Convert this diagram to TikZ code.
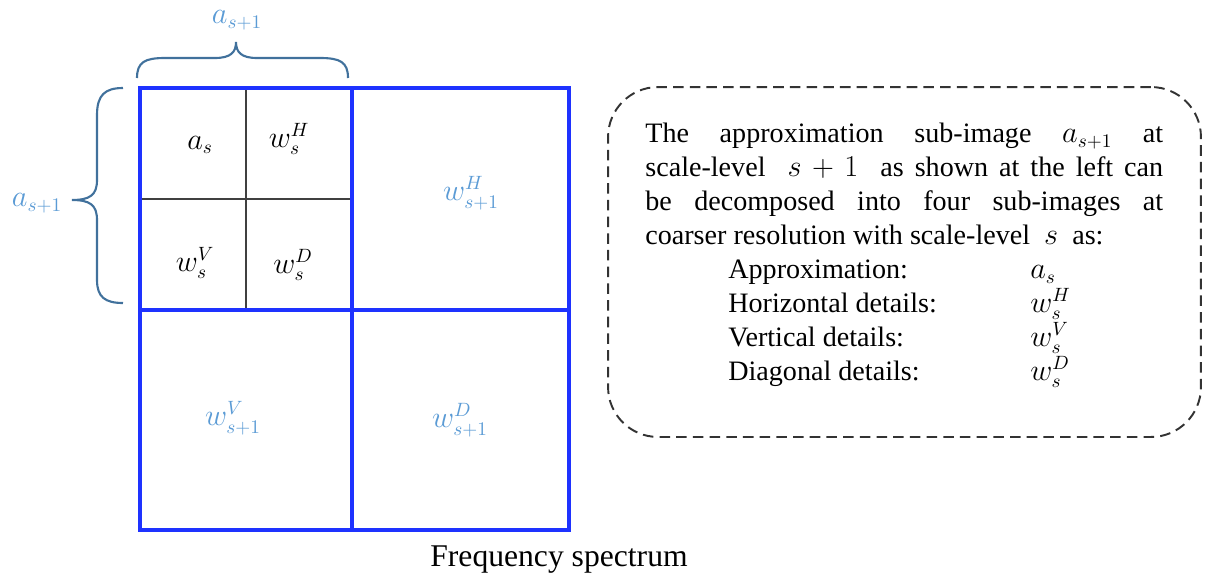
\documentclass[tikz,border=0pt]{standalone}
\usepackage{fontspec}
\setmainfont{Liberation Serif}
\usetikzlibrary{positioning}
\definecolor{gridblue}{RGB}{30,50,255}
\definecolor{labelblue}{RGB}{91,155,213}
\definecolor{bracecol}{RGB}{65,113,156}

\begin{document}
\begin{tikzpicture}[x=0.02cm, y=-0.02cm,
    cell/.style={font=\fontsize{16}{16}\selectfont},
    bigcell/.style={font=\fontsize{16}{16}\selectfont, text=labelblue},
    thinline/.style={draw=black!75, line width=0.6pt},
    bluebox/.style={draw=gridblue, line width=2.1pt},
    brace/.style={draw=bracecol, line width=1.2pt},
    notebox/.style={draw=black!80, line width=1.1pt, dash pattern=on 6pt off 3.5pt,
                rounded corners=1cm, minimum width=11.86cm, minimum height=7cm},
    notetext/.style={inner sep=0pt, text width=10.36cm, align=justify,
                font=\fontsize{16}{19.3}\selectfont}]

    \useasboundingbox (0,0) rectangle (1213,578);

    \coordinate (nw) at (140,88);
    \coordinate (se) at (569,530);
    \coordinate (mid) at (352,310);
    \coordinate (sub) at (246,199);

    % fine split of the upper left quarter
    \draw[thinline] (sub |- nw) -- (sub |- mid);
    \draw[thinline] (nw |- sub) -- (mid |- sub);
    \draw[bluebox] (nw) rectangle (se);
    \draw[bluebox] (mid |- nw) -- (mid |- se);
    \draw[bluebox] (nw |- mid) -- (se |- mid);

    \node[cell] (as) at (200,145) {$a_s$};
    \node[cell] (wh) at (289,139) {$w_s^H$};
    \node[cell] (wv) at (195,263) {$w_s^V$};
    \node[cell] (wd) at (293,265) {$w_s^D$};
    \node[bigcell] (whn) at (471,193) {$w_{s+1}^H$};
    \node[bigcell] (wvn) at (233,418) {$w_{s+1}^V$};
    \node[bigcell] (wdn) at (460,420) {$w_{s+1}^D$};

    % braces
    \draw[brace] (137,78) .. controls (137,62) and (145,58) .. (165,58) -- (215,58)
        .. controls (231,58) and (236,52) .. (236,42)
        .. controls (236,52) and (241,58) .. (257,58) -- (320,58)
        .. controls (340,58) and (348,62) .. (348,78);
    \node[bigcell] (atop) at (237,20) {$a_{s+1}$};
    \draw[brace] (123,88) .. controls (105,88) and (97,95) .. (97,115) -- (97,180)
        .. controls (97,195) and (90,200) .. (72,200)
        .. controls (90,200) and (97,205) .. (97,220) -- (97,280)
        .. controls (97,297) and (105,303) .. (123,303);
    \node[bigcell] (aleft) at (37,203) {$a_{s+1}$};

    \node[notebox] (note) at (904.5,262) {};
    \node[notetext, anchor=north west] (explain) at (645,123) {%
        The approximation sub-image $a_{s+1}$ at\linebreak
        scale-level \ $s+1$ \ as shown at the left can\linebreak
        be decomposed into four sub-images at\linebreak
        coarser resolution with scale-level \ $s$ \ as:\\
        \hspace*{1.66cm}\makebox[6.04cm][l]{Approximation:}$a_s$\\
        \hspace*{1.66cm}\makebox[6.04cm][l]{Horizontal details:}$w_s^H$\\
        \hspace*{1.66cm}\makebox[6.04cm][l]{Vertical details:}$w_s^V$\\
        \hspace*{1.66cm}\makebox[6.04cm][l]{Diagonal details:}$w_s^D$};

    \node[font=\fontsize{18}{18}\selectfont] (caption) at (559,560) {Frequency spectrum};
\end{tikzpicture}
\end{document}
